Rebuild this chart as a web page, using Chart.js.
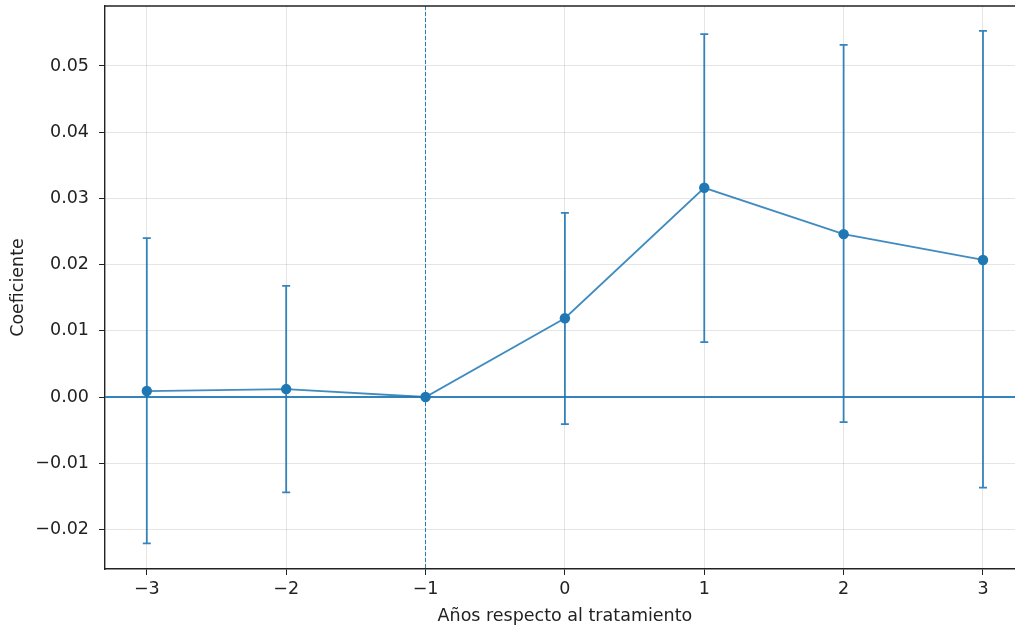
<!DOCTYPE html>
<html>
<head>
<meta charset="utf-8">
<script src="https://cdn.jsdelivr.net/npm/chart.js@4"></script>
<style>
  html, body { margin: 0; padding: 0; background: #fff; overflow: hidden; }
  #wrap { width: 1015px; height: 628px; overflow: hidden; }
</style>
</head>
<body>
<div id="wrap"><canvas id="chart1" width="1030" height="628"></canvas></div>
<script>
// event study data
var years = [-3, -2, -1, 0, 1, 2, 3];
var coef = [0.0009, 0.0012, 0.0, 0.0119, 0.0316, 0.0246, 0.0207];
var ciLow = [-0.0221, -0.0144, 0.0, -0.0041, 0.0083, -0.0038, -0.0137];
var ciHigh = [0.0240, 0.0168, 0.0, 0.0278, 0.0548, 0.0532, 0.0553];
var xTicks = [-3, -2, -1, 0, 1, 2, 3];
var yTicks = [-0.02, -0.01, 0.0, 0.01, 0.02, 0.03, 0.04, 0.05];

var blue = "#1f77b4";
var font = { family: "DejaVu Sans", size: 17.5 };

function fmt(v, d) {
	var s = Math.abs(v).toFixed(d);
	return (v < -1e-9 ? "\u2212" : "") + s;
}

// errorbars, zero line, vertical reference line, top spine
var extras = {
	id: "extras",
	beforeDatasetsDraw: function(chart) {
		var ctx = chart.ctx, xs = chart.scales.x, ys = chart.scales.y, a = chart.chartArea;
		ctx.save();
		// dashed vertical at -1
		ctx.strokeStyle = "rgba(31,119,180,0.95)";
		ctx.lineWidth = 1;
		ctx.setLineDash([4, 2]);
		var vx = Math.floor(xs.getPixelForValue(-1)) + 0.5;
		ctx.beginPath(); ctx.moveTo(vx, a.top); ctx.lineTo(vx, a.bottom); ctx.stroke();
		ctx.setLineDash([]);
		// zero line
		ctx.strokeStyle = "rgba(31,119,180,0.9)";
		ctx.lineWidth = 1.8;
		var zy = ys.getPixelForValue(0);
		ctx.beginPath(); ctx.moveTo(a.left, zy); ctx.lineTo(a.right, zy); ctx.stroke();
		// error bars
		ctx.strokeStyle = "rgba(31,119,180,0.9)";
		ctx.lineWidth = 1.8;
		for (var i = 0; i < years.length; i++) {
			if (ciLow[i] === ciHigh[i]) continue;
			var px = xs.getPixelForValue(years[i]);
			var lo = ys.getPixelForValue(ciLow[i]);
			var hi = ys.getPixelForValue(ciHigh[i]);
			ctx.beginPath();
			ctx.moveTo(px, lo); ctx.lineTo(px, hi);
			ctx.moveTo(px - 4, lo); ctx.lineTo(px + 4, lo);
			ctx.moveTo(px - 4, hi); ctx.lineTo(px + 4, hi);
			ctx.stroke();
		}
		ctx.restore();
	},
	afterDraw: function(chart) {
		var ctx = chart.ctx, a = chart.chartArea;
		ctx.save();
		ctx.strokeStyle = "#222";
		ctx.lineWidth = 1.4;
		ctx.beginPath(); ctx.moveTo(a.left, a.top); ctx.lineTo(a.right, a.top); ctx.stroke();
		ctx.beginPath(); ctx.moveTo(a.right, a.top); ctx.lineTo(a.right, a.bottom); ctx.stroke();
		ctx.restore();
	}
};

var myChart1 = document.getElementById("chart1").getContext("2d");

var data = {
	datasets: [
		{
			label: "Coeficiente",
			data: years.map(function(x, i) { return { x: x, y: coef[i] }; }),
			borderColor: "rgba(31,119,180,0.85)",
			borderWidth: 1.8,
			backgroundColor: blue,
			pointBackgroundColor: blue,
			pointBorderColor: blue,
			pointRadius: 5.2,
			pointBorderWidth: 0,
			showLine: true,
			tension: 0
		}
	]
};

var options = {
	responsive: false,
	animation: false,
	layout: { padding: { top: 6, right: 5, left: 0, bottom: 0 } },
	plugins: {
		legend: { display: false },
		tooltip: { enabled: false }
	},
	scales: {
		x: {
			type: "linear",
			min: -3.3,
			max: 3.3,
			afterBuildTicks: function(s) { s.ticks = xTicks.map(function(v) { return { value: v }; }); },
			afterFit: function(s) { s.height = 59; s.paddingLeft = 0; s.paddingRight = 0; },
			grid: { color: "rgba(0,0,0,0.1)", tickColor: "#222", tickLength: 6, drawTicks: true },
			border: { color: "#222", width: 1.4 },
			ticks: {
				font: font, color: "#222", padding: 4, maxRotation: 0,
				callback: function(v) { return fmt(v, 0); }
			},
			title: { display: true, text: "Años respecto al tratamiento", font: font, color: "#222", padding: { top: 0, bottom: 1 } }
		},
		y: {
			type: "linear",
			min: -0.02598,
			max: 0.05906,
			afterBuildTicks: function(s) { s.ticks = yTicks.map(function(v) { return { value: v }; }); },
			afterFit: function(s) { s.width = 105; s.paddingTop = 0; s.paddingBottom = 0; },
			grid: { color: "rgba(0,0,0,0.1)", tickColor: "#222", tickLength: 6, drawTicks: true },
			border: { color: "#222", width: 1.4 },
			ticks: {
				font: font, color: "#222", padding: 10,
				callback: function(v) { return fmt(v, 2); }
			},
			title: { display: true, text: "Coeficiente", font: font, color: "#222", padding: { top: 8, bottom: 0 } }
		}
	}
};

var chart1 = new Chart(myChart1, {
	type: "scatter",
	data: data,
	options: options,
	plugins: [extras]
});
</script>
</body>
</html>
